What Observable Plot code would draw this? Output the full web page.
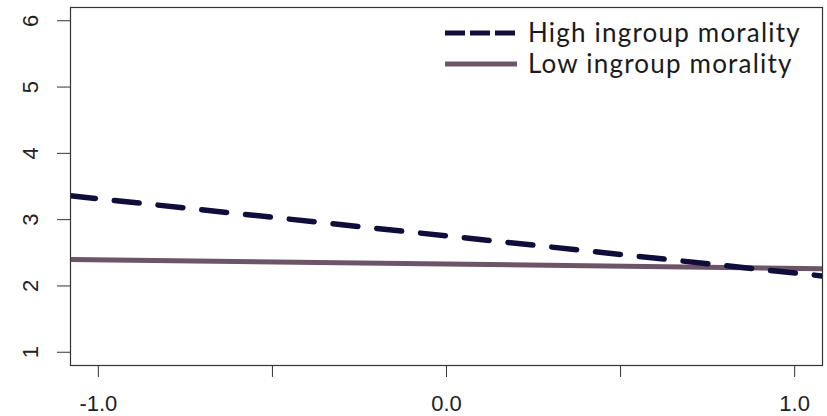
<!DOCTYPE html>
<html>
<head>
<meta charset="utf-8">
<script src="https://cdn.jsdelivr.net/npm/d3@7"></script>
<script src="https://cdn.jsdelivr.net/npm/@observablehq/plot@0.6"></script>
<style>
  html, body { margin: 0; padding: 0; background: #fff; }
  #wrap { position: relative; width: 827px; height: 416px; overflow: hidden; }
  #legend { position: absolute; left: 445px; top: 17.5px; font-family: Lato, "Noto Sans", sans-serif; font-size: 26px; letter-spacing: 1.2px; color: #1a1a1a; }
  .row { display: flex; align-items: center; height: 31px; }
  .row svg { margin-right: 11px; flex: none; }
  .row span { position: relative; top: -1.5px; white-space: nowrap; }
</style>
</head>
<body>
<div id="wrap"></div>
<script>
// Data
const xEnds = [-1.08, 1.08];
const highMorality = [3.36, 2.15];
const lowMorality = [2.40, 2.26];
const seriesNames = ["High ingroup morality", "Low ingroup morality"];
const xTicks = [-1, -0.5, 0, 0.5, 1];
const xTickLabels = ["-1.0", "", "0.0", "", "1.0"];
const yTicks = [1, 2, 3, 4, 5, 6];
const yTickLabels = ["1", "2", "3", "4", "5", "6"];
const colors = ["#0e0d3b", "#6d5568"];

const high = xEnds.map((x, i) => ({x, y: highMorality[i]}));
const low = xEnds.map((x, i) => ({x, y: lowMorality[i]}));

const chart = Plot.plot({
  width: 827,
  height: 416,
  marginLeft: 70,
  marginRight: 5,
  marginTop: 7,
  marginBottom: 51,
  style: {fontFamily: "'Liberation Sans', Arial, sans-serif", fontSize: "22px", color: "#222", background: "#fff"},
  x: {domain: [-1.08, 1.08], label: null},
  y: {domain: [0.8, 6.2], label: null},
  marks: [
    Plot.line(low, {x: "x", y: "y", stroke: colors[1], strokeWidth: 5, clip: true}),
    Plot.line(high, {x: "x", y: "y", stroke: colors[0], strokeWidth: 5.5, strokeDasharray: "25,19", clip: true}),
    Plot.frame({stroke: "#333", strokeWidth: 1.2}),
    Plot.axisX(xTicks, {label: null, tickSize: 12, tickPadding: 18, stroke: "#333", tickFormat: (d) => xTickLabels[xTicks.indexOf(d)], fontSize: 22, fill: "#222"}),
    Plot.axisY(yTicks, {label: null, tickSize: 13, tickPadding: 20, tickRotate: -90, stroke: "#333", tickFormat: (d) => yTickLabels[yTicks.indexOf(d)], fontSize: 22, fill: "#222"})
  ]
});

const wrap = document.getElementById("wrap");
wrap.appendChild(chart);
chart.style.position = "absolute";
chart.style.left = "0";
chart.style.top = "0";

const legend = document.createElement("div");
legend.id = "legend";
seriesNames.forEach((name, i) => {
  const row = document.createElement("div");
  row.className = "row";
  const dash = i === 0 ? "20,5" : "none";
  row.innerHTML = `<svg width="72" height="10"><line x1="0" x2="72" y1="5" y2="5" stroke="${colors[i]}" stroke-width="5" stroke-dasharray="${dash}"/></svg><span>${name}</span>`;
  legend.appendChild(row);
});
wrap.appendChild(legend);
</script>
</body>
</html>
